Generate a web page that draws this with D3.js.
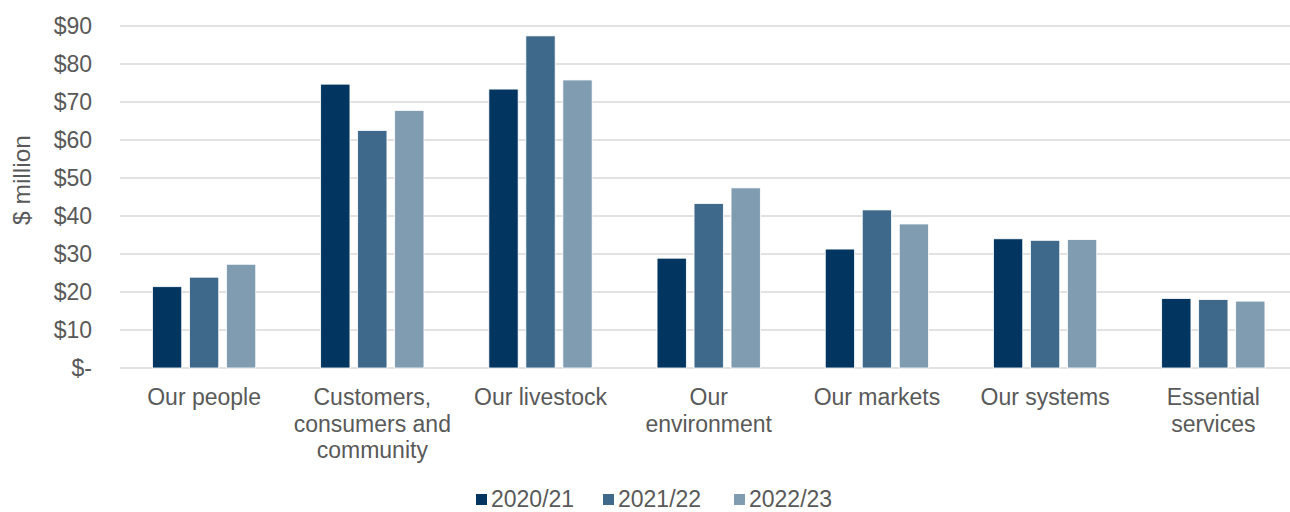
<!DOCTYPE html>
<html>
<head>
<meta charset="utf-8">
<script src="https://cdn.jsdelivr.net/npm/d3@7"></script>
<style>
  html, body { margin: 0; padding: 0; background: #fff; }
  svg { display: block; font-family: "Liberation Sans", Arial, sans-serif; }
</style>
</head>
<body>
<svg id="chart" width="1290" height="512"></svg>
<script>
// Spending by investment area, $ million
const categories = ["Our people", "Customers, consumers and community", "Our livestock",
  "Our environment", "Our markets", "Our systems", "Essential services"];
const categoryLines = [
  ["Our people"],
  ["Customers,", "consumers and", "community"],
  ["Our livestock"],
  ["Our", "environment"],
  ["Our markets"],
  ["Our systems"],
  ["Essential", "services"]
];
const seriesNames = ["2020/21", "2021/22", "2022/23"];
const values2020 = [21.4, 74.7, 73.4, 28.9, 31.3, 34.0, 18.3];
const values2021 = [23.9, 62.5, 87.4, 43.3, 41.6, 33.6, 18.0];
const values2022 = [27.3, 67.8, 75.8, 47.4, 37.9, 33.8, 17.6];
const yTicks = [0, 10, 20, 30, 40, 50, 60, 70, 80, 90];
const colors = ["#023660", "#3E698A", "#809CB1"];

const seriesValues = [values2020, values2021, values2022];
const svg = d3.select("#chart");
const textColor = "#595959";
const fontSize = 23;

const plot = { left: 120, right: 1297.4, top: 26, bottom: 368 };

const x = d3.scaleBand().domain(categories).range([plot.left, plot.right]).padding(0);
const xInner = d3.scaleBand().domain(seriesNames).range([0, x.bandwidth()])
  .paddingInner(0.208).paddingOuter(0.877);
const y = d3.scaleLinear().domain([0, 90]).range([plot.bottom, plot.top]);

// horizontal gridlines
svg.append("g").selectAll("line").data(yTicks).join("line")
  .attr("x1", plot.left).attr("x2", plot.right)
  .attr("y1", d => y(d)).attr("y2", d => y(d))
  .attr("stroke", "#D9D9D9").attr("stroke-width", 1.5);

// y-axis labels
const yAxis = d3.axisLeft(y).tickValues(yTicks).tickSize(0).tickPadding(0)
  .tickFormat(d => d === 0 ? "$-" : "$" + d);
const yg = svg.append("g").attr("transform", `translate(92,0)`).call(yAxis);
yg.select(".domain").remove();
yg.selectAll("text").attr("fill", textColor).attr("font-size", fontSize)
  .attr("font-family", "Liberation Sans, Arial, sans-serif").attr("x", 0);

// y-axis title
svg.append("text")
  .attr("transform", "translate(30,180) rotate(-90)")
  .attr("text-anchor", "middle")
  .attr("fill", textColor).attr("font-size", 24.5)
  .text("$ million");

// bars
const barData = [];
categories.forEach((c, ci) => {
  seriesNames.forEach((s, si) => {
    barData.push({ category: c, series: s, value: seriesValues[si][ci], si });
  });
});
svg.append("g").selectAll("rect").data(barData).join("rect")
  .attr("x", d => x(d.category) + xInner(d.series))
  .attr("width", xInner.bandwidth())
  .attr("y", d => y(d.value))
  .attr("height", d => y(0) - y(d.value))
  .attr("fill", d => colors[d.si])
  .attr("stroke", "#ffffff").attr("stroke-width", 0.8);

// category labels
const xl = svg.append("g").selectAll("text").data(categories).join("text")
  .attr("text-anchor", "middle")
  .attr("fill", textColor).attr("font-size", fontSize)
  .attr("transform", d => `translate(${x(d) + x.bandwidth() / 2},405)`);
xl.each(function (d, i) {
  const t = d3.select(this);
  categoryLines[i].forEach((line, li) => {
    t.append("tspan").attr("x", 0).attr("y", li * 26.5).text(line);
  });
});

// legend
const legendX = [476, 603, 734];
const legend = svg.append("g").selectAll("g").data(seriesNames).join("g")
  .attr("transform", (d, i) => `translate(${legendX[i]},499)`);
legend.append("rect").attr("x", 0).attr("y", -5).attr("width", 11).attr("height", 11)
  .attr("fill", (d, i) => colors[i]);
legend.append("text").attr("x", 15).attr("y", 8)
  .attr("fill", textColor).attr("font-size", fontSize).text(d => d);
</script>
</body>
</html>
